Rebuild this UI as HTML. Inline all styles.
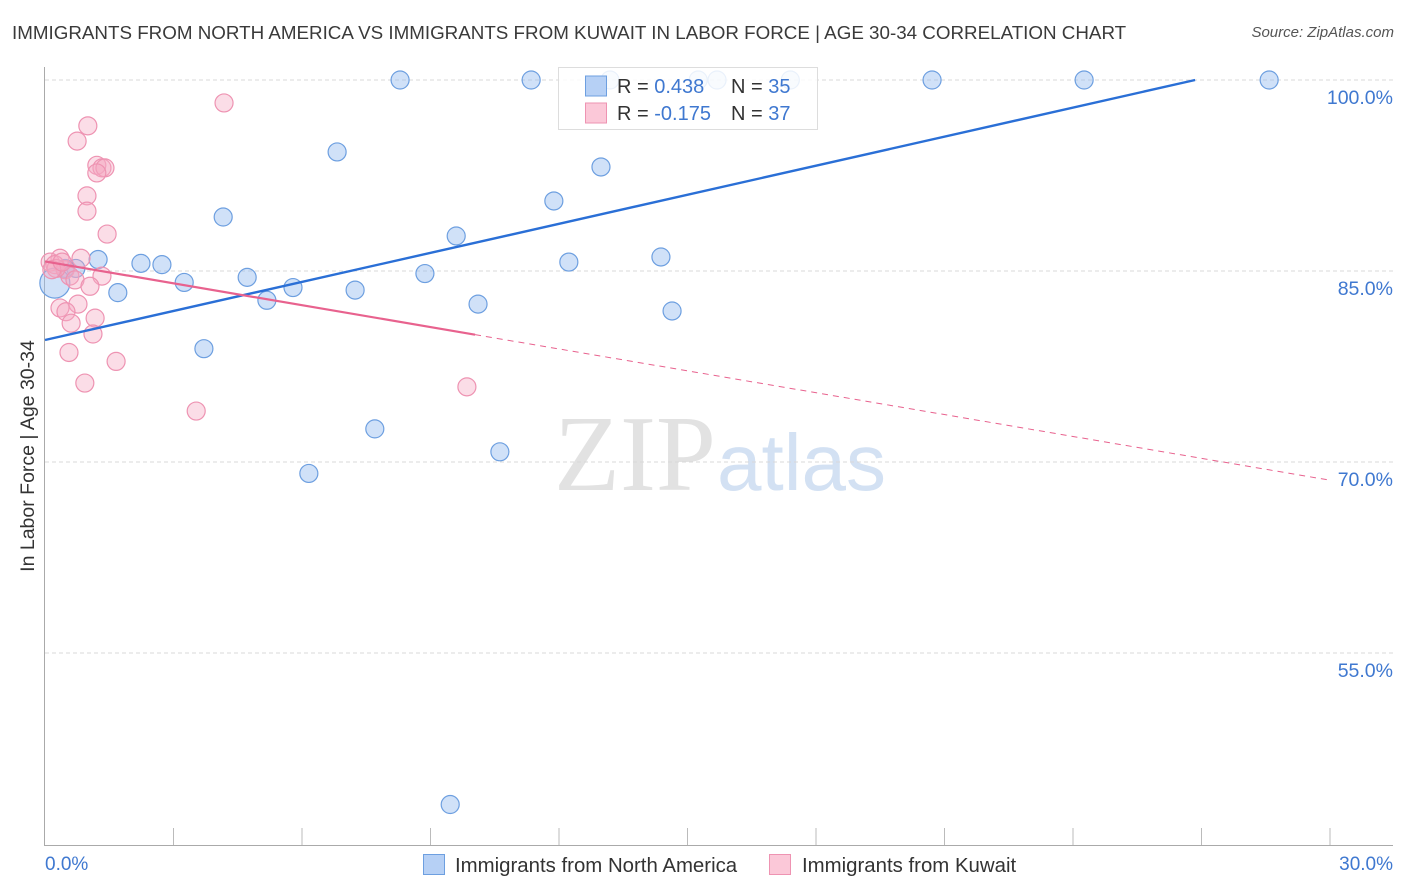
<!DOCTYPE html>
<html><head><meta charset="utf-8"><style>
body{margin:0;background:#fff;font-family:"Liberation Sans",sans-serif;}
#wrap{position:relative;width:1406px;height:892px;overflow:hidden;}
.t{position:absolute;white-space:nowrap;}
</style></head><body>
<div id="wrap">
<div class="t" style="left:12px;top:22px;font-size:18.8px;color:#3a3a3a;">IMMIGRANTS FROM NORTH AMERICA VS IMMIGRANTS FROM KUWAIT IN LABOR FORCE | AGE 30-34 CORRELATION CHART</div>
<div class="t" style="right:12px;top:24px;font-size:15px;color:#555;font-style:italic;">Source: ZipAtlas.com</div>
<svg id="svg" width="1406" height="892" style="position:absolute;left:0;top:0"></svg>
</div>
<script>
const xTicks=[0,3,6,9,12,15,18,21,24,27,30];
const yTicks=[100,85,70,55];
const yTickLabels=["100.0%","85.0%","70.0%","55.0%"];
const blueX=[8.29,11.35,13.19,15.25,15.69,17.4,20.71,24.26,28.58,6.82,12.98,11.88,4.16,9.6,14.38,12.23,2.24,2.73,1.24,0.72,4.72,3.25,8.87,1.7,5.79,5.18,7.24,10.11,14.64,3.71,7.7,10.62,6.16,9.46,0.47];
const blueY=[100,100,100,100,100,100,100,100,100,94.35,93.17,90.5,89.24,87.75,86.1,85.7,85.6,85.5,85.9,85.2,84.5,84.1,84.8,83.3,83.7,82.7,83.5,82.4,81.86,78.9,72.6,70.8,69.1,43.1,85.2];
const pinkX=[4.18,1.0,0.75,1.21,1.33,1.4,1.21,0.98,0.98,1.45,0.84,0.35,0.12,0.23,0.47,0.58,0.7,1.33,1.05,0.77,0.35,0.49,1.17,0.61,1.12,0.56,1.66,0.93,3.53,9.85,0.26,0.16,0.4];
const pinkY=[98.2,96.4,95.2,93.3,93.1,93.1,92.7,90.9,89.7,87.9,86.0,86.0,85.7,85.5,85.1,84.6,84.3,84.6,83.8,82.4,82.1,81.8,81.3,80.9,80.05,78.6,77.9,76.2,74.0,75.9,85.2,85.1,85.7];
const blueLine=[79.58,0.7605]; // intercept, slope per %
const pinkLine=[85.75,-0.5727];
const pinkSolidEnd=10.04;

const svg=document.getElementById('svg');
const NS='http://www.w3.org/2000/svg';
const X=v=>45+v*42.833;
const Y=v=>80+(100-v)*12.733;
function mk(tag,attrs){const e=document.createElementNS(NS,tag);for(const k in attrs)e.setAttribute(k,attrs[k]);svg.appendChild(e);return e;}

let w=mk('text',{x:635,y:490,'font-size':108,'font-family':'Liberation Serif, serif',fill:'#e2e2e2','text-anchor':'middle'});w.textContent='ZIP';


w=mk('text',{x:717,y:490,'font-size':80,'font-family':'Liberation Sans, sans-serif',fill:'#d3e1f3'});w.textContent='atlas';



yTicks.forEach((v,i)=>{
 const g=mk('line',{x1:45,x2:1393,y1:Y(v),y2:Y(v),stroke:'#d8d8d8','stroke-dasharray':'4,3'});
 
 
 const t=mk('text',{x:1393,y:Y(v)+24,'font-size':19.5,fill:'#3f78d0','text-anchor':'end'});t.textContent=yTickLabels[i];
 
 
});
let a=mk('line',{x1:44.5,x2:44.5,y1:67,y2:845,stroke:'#aaa'});


a=mk('line',{x1:44,x2:1393,y1:845.5,y2:845.5,stroke:'#aaa'});


xTicks.forEach(v=>{if(v===0)return;
 const l=mk('line',{x1:X(v),x2:X(v),y1:828,y2:845,stroke:'#bbb'});
 
 
});
let t=mk('text',{x:45,y:870,'font-size':19,fill:'#3f78d0'});t.textContent='0.0%';


t=mk('text',{x:1393,y:870,'font-size':19,fill:'#3f78d0','text-anchor':'end'});t.textContent='30.0%';


t=mk('text',{x:0,y:0,'font-size':19.5,fill:'#333','text-anchor':'middle',transform:'translate(34,456) rotate(-90)'});t.textContent='In Labor Force | Age 30-34';



blueX.forEach((x,i)=>{const c=mk('circle',{cx:X(x),cy:Y(blueY[i]),r:9,fill:'rgba(150,188,240,0.45)',stroke:'#6d9fe0','stroke-width':1.2});
 
 });
let big=mk('circle',{cx:X(0.23),cy:Y(84.05),r:15,fill:'rgba(150,188,240,0.45)',stroke:'#6d9fe0','stroke-width':1.2});


pinkX.forEach((x,i)=>{const c=mk('circle',{cx:X(x),cy:Y(pinkY[i]),r:9,fill:'rgba(246,170,196,0.4)',stroke:'#ee93b2','stroke-width':1.2});
 
 });

const bEnd=(100-blueLine[0])/blueLine[1];
let l=mk('line',{x1:X(0),y1:Y(blueLine[0]),x2:X(bEnd),y2:Y(100),stroke:'#2a6fd6','stroke-width':2.4});


l=mk('line',{x1:X(0),y1:Y(pinkLine[0]),x2:X(pinkSolidEnd),y2:Y(pinkLine[0]+pinkLine[1]*pinkSolidEnd),stroke:'#e8628e','stroke-width':2.2});


l=mk('line',{x1:X(pinkSolidEnd),y1:Y(pinkLine[0]+pinkLine[1]*pinkSolidEnd),x2:X(30),y2:Y(pinkLine[0]+pinkLine[1]*30),stroke:'#e8628e','stroke-width':1,'stroke-dasharray':'6,5'});



let r=mk('rect',{x:558.5,y:67.5,width:259,height:62,fill:'rgba(255,255,255,0.85)',stroke:'#ddd'});


[['#b6d0f5','#6d9fe0','0.438','35',86],['#fbc8d8','#ee93b2','-0.175','37',113]].forEach(d=>{
 const s=mk('rect',{x:585.5,y:d[4]-10,width:21,height:20,fill:d[0],stroke:d[1]});
 
 
 const tx=mk('text',{x:617,y:d[4]+7,'font-size':20,fill:'#333'});
 tx.innerHTML='R = <tspan fill="#3f78d0">'+(d[2][0]==='-'?'':' ')+d[2]+'</tspan>';
 
 
 const tn=mk('text',{x:731,y:d[4]+7,'font-size':20,fill:'#333'});
 tn.innerHTML='N = <tspan fill="#3f78d0">'+d[3]+'</tspan>';
 
 
});

[[423.5,'#b6d0f5','#6d9fe0','Immigrants from North America',455],[769.5,'#fbc8d8','#ee93b2','Immigrants from Kuwait',802]].forEach(d=>{
 const s=mk('rect',{x:d[0],y:854.5,width:21,height:20,fill:d[1],stroke:d[2]});
 
 
 const tx=mk('text',{x:d[4],y:872,'font-size':20.4,fill:'#333'});tx.textContent=d[3];
 
 
});
</script>
</body></html>
